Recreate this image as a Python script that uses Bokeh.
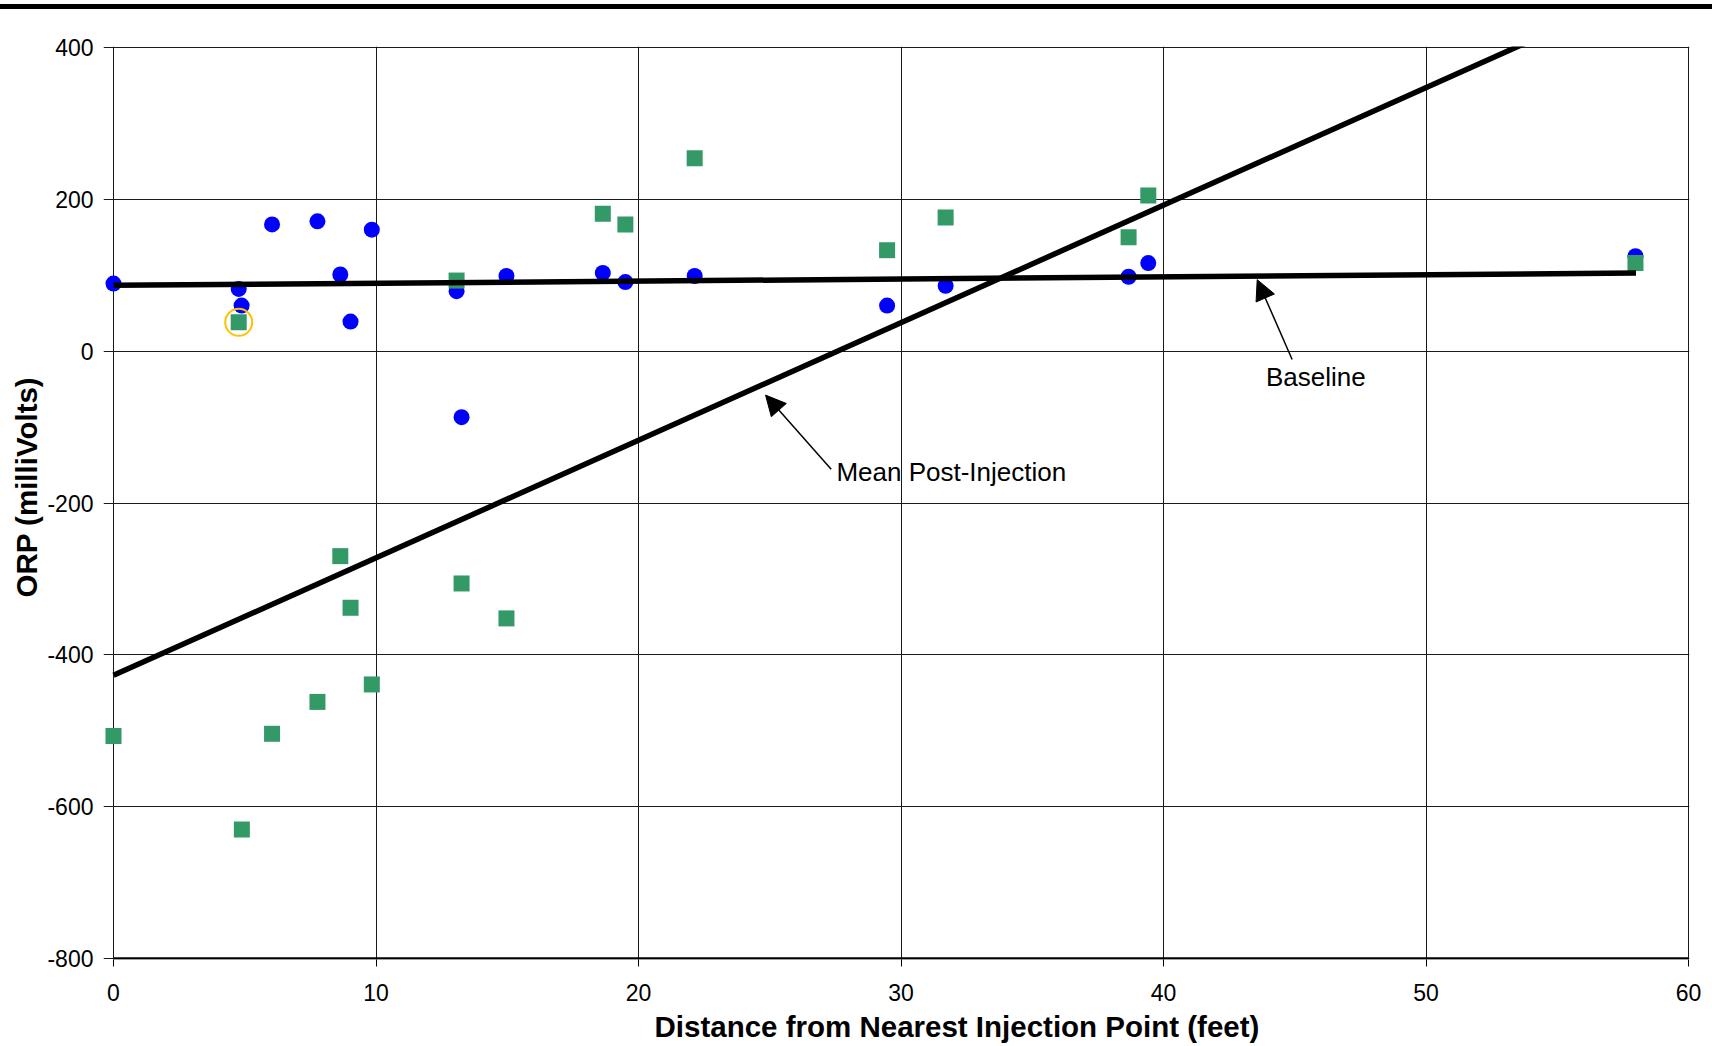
import math
from bokeh.plotting import figure
from bokeh.models import FixedTicker, Label, Arrow, NormalHead, Spacer, Div, Title
from bokeh.layouts import column
from bokeh.embed import file_html
from bokeh.resources import INLINE

# ---------------- data ----------------
baseline_x = [0, 4.77, 4.88, 6.04, 7.77, 8.64, 9.03, 9.84, 13.07, 13.26, 14.97,
              18.64, 19.5, 22.14, 29.47, 31.7, 38.67, 39.42, 57.98]
baseline_orp = [89, 82, 60, 167, 171, 101, 39, 160, 79, -87, 99,
                103, 91, 99, 60, 86, 98, 116, 125]

post_x = [0, 4.77, 4.89, 6.04, 7.77, 8.64, 9.03, 9.84, 13.07, 13.26, 14.97,
          18.64, 19.5, 22.14, 29.47, 31.7, 38.67, 39.42, 57.98]
post_orp = [-507, 38, -630, -504, -462, -270, -338, -439, 93, -306, -352,
            181, 167, 254, 133, 176, 150, 205, 116]

highlight_x = [4.77]
highlight_y = [38]

# trend lines (end points)
baseline_trend_x = [0, 58]
baseline_trend_y = [86.7, 102.8]
post_trend_x = [0, 58]
post_trend_y = [-427, 471]

x_ticks = [0, 10, 20, 30, 40, 50, 60]
x_tick_labels = ["0", "10", "20", "30", "40", "50", "60"]
y_ticks = [-800, -600, -400, -200, 0, 200, 400]
y_tick_labels = ["-800", "-600", "-400", "-200", "0", "200", "400"]

x_title = "Distance from Nearest Injection Point (feet)"
y_title = "ORP (milliVolts)"

FONT = "Liberation Sans"

# ---------------- top rule ----------------
bar = Div(text="", width=1712, height=5, margin=(0, 0, 0, 0),
          styles={"background-color": "black"})

# ---------------- main plot ----------------
p = figure(width=1712, height=1037, x_range=(-0.381, 60.038), y_range=(-801.3, 401.3),
           toolbar_location=None, output_backend="svg",
           min_border_left=103, min_border_right=23, min_border_top=37,
           min_border_bottom=86, background_fill_color="white",
           border_fill_color="white", outline_line_color=None)

p.xaxis.ticker = FixedTicker(ticks=x_ticks)
p.yaxis.ticker = FixedTicker(ticks=y_ticks)
p.xgrid.ticker = FixedTicker(ticks=x_ticks)
p.ygrid.ticker = FixedTicker(ticks=y_ticks)
p.xaxis.major_label_overrides = dict(zip(x_ticks, x_tick_labels))
p.yaxis.major_label_overrides = dict(zip(y_ticks, y_tick_labels))
for g in (p.xgrid, p.ygrid):
    g.grid_line_color = "#1a1a1a"
    g.grid_line_width = 1

for ax in (p.xaxis, p.yaxis):
    ax.major_label_text_font = FONT
    ax.major_label_text_font_size = "23px"
    ax.major_label_text_color = "black"
    ax.minor_tick_line_color = None
    ax.major_tick_in = 0
    ax.axis_line_color = None
p.xaxis.major_tick_out = 7
p.xaxis.major_tick_line_color = "black"
p.yaxis.major_tick_out = 0
p.yaxis.major_tick_line_color = None
p.xaxis.major_label_standoff = 17
p.yaxis.major_label_standoff = 10

# thick bottom edge of the plot area
p.line([0, 60], [-800, -800], line_color="black", line_width=2.5)

# points
p.scatter(baseline_x, baseline_orp, marker="circle", size=16,
          fill_color="#0000FF", line_color=None)
p.scatter(post_x, post_orp, marker="square", size=16,
          fill_color="#339966", line_color=None)
p.scatter(highlight_x, highlight_y, marker="circle", size=27,
          fill_color=None, line_color="#FFC000", line_width=2)

# trend lines
p.line(baseline_trend_x, baseline_trend_y, line_color="black", line_width=5.5)
p.line(post_trend_x, post_trend_y, line_color="black", line_width=5.5)

# annotations
p.add_layout(Arrow(end=NormalHead(size=20, fill_color="black", line_color="black"),
                   x_start=44.9, y_start=-10.9, x_end=43.57, y_end=94.2,
                   line_color="black", line_width=1.5))
p.add_layout(Label(x=43.9, y=-34.0, text="Baseline", text_font=FONT,
                   text_font_size="26px", text_color="black",
                   text_baseline="alphabetic", text_align="left"))
p.add_layout(Arrow(end=NormalHead(size=20, fill_color="black", line_color="black"),
                   x_start=27.34, y_start=-155.5, x_end=24.84, y_end=-57.9,
                   line_color="black", line_width=1.5))
p.add_layout(Label(x=27.54, y=-159.0, text="Mean Post-Injection", text_font=FONT,
                   text_font_size="26px", text_color="black",
                   text_baseline="alphabetic", text_align="left"))

# axis titles
p.add_layout(Title(text=x_title, align="left", offset=551, text_font=FONT,
                   text_font_size="29.5px", text_font_style="bold",
                   text_color="black", standoff=8), "below")
p.add_layout(Title(text=y_title, align="left", offset=362, text_font=FONT,
                   text_font_size="29.5px", text_font_style="bold",
                   text_color="black", standoff=4), "left")

layout = column(Spacer(width=1712, height=4), bar, p, spacing=0)

open("out.html", "w").write(file_html(layout, INLINE))
